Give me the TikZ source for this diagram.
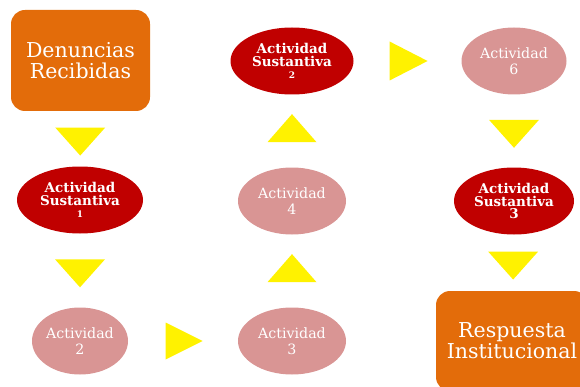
\documentclass[tikz,border=0pt]{standalone}
\usepackage{fontspec}
\setmainfont{DejaVu Serif}
\usetikzlibrary{shapes.geometric, positioning}
\definecolor{naranja}{RGB}{227,108,10}
\definecolor{rojo}{RGB}{192,0,0}
\definecolor{rosa}{RGB}{217,149,148}
\tikzset{
	x=1pt, y=1pt,
	caja/.style={rounded corners=14pt, fill=naranja, text=white, align=center, font=\fontsize{20.5}{21}\selectfont},
	sust/.style={ellipse, fill=rojo, text=white, align=center, inner sep=0pt, minimum height=67pt, font=\bfseries\fontsize{13.5}{12.5}\selectfont},
	act/.style={ellipse, fill=rosa, text=white, align=center, inner sep=0pt, minimum height=67pt, font=\fontsize{14.2}{16}\selectfont},
	flecha/.style={isosceles triangle, isosceles triangle stretches, fill=yellow, inner sep=0pt, minimum width=37pt, minimum height=37pt, xshift=-6pt},
	abajo/.style={isosceles triangle, isosceles triangle stretches, fill=yellow, inner sep=0pt, rotate=-90, minimum width=50pt, minimum height=28pt},
	arriba/.style={abajo, rotate=180, minimum width=49pt},
}
\begin{document}
\begin{tikzpicture}
	\useasboundingbox (0,0) rectangle (580,386);
	\node[caja, minimum width=139pt, minimum height=101pt] (den) at (80.5,325.5) {Denuncias\\Recibidas};
	\node[sust, minimum width=126pt] (as1) at (80,186) {Actividad\\Sustantiva\\{\fontsize{9}{10}\selectfont 1}};
	\node[act, minimum width=96pt] (a2) at (80,45) {Actividad\\2};
	\node[act, minimum width=108pt] (a3) at (292,45) {Actividad\\3};
	\node[act, minimum width=108pt] (a4) at (292,185) {Actividad\\4};
	\node[sust, minimum width=123pt] (as2) at (292,325) {Actividad\\Sustantiva\\{\fontsize{9}{10}\selectfont 2}};
	\node[act, minimum width=105pt] (a6) at (514,325) {Actividad\\6};
	\node[sust, minimum width=120pt] (as3) at (514,185) {Actividad\\Sustantiva\\3};
	\node[caja, minimum width=152pt, minimum height=100pt] (res) at (512,45) {Respuesta\\Institucional};
	\path (den) -- node[abajo] {} (as1)
		(as1) -- node[abajo] {} (a2)
		(a2) -- node[flecha] {} (a3)
		(a3) -- node[arriba] {} (a4)
		(a4) -- node[arriba] {} (as2)
		(as2) -- node[flecha, minimum width=39pt, minimum height=38pt] {} (a6)
		(a6) -- node[abajo] {} (as3)
		(as3) -- node[abajo] {} (res);
\end{tikzpicture}
\end{document}
